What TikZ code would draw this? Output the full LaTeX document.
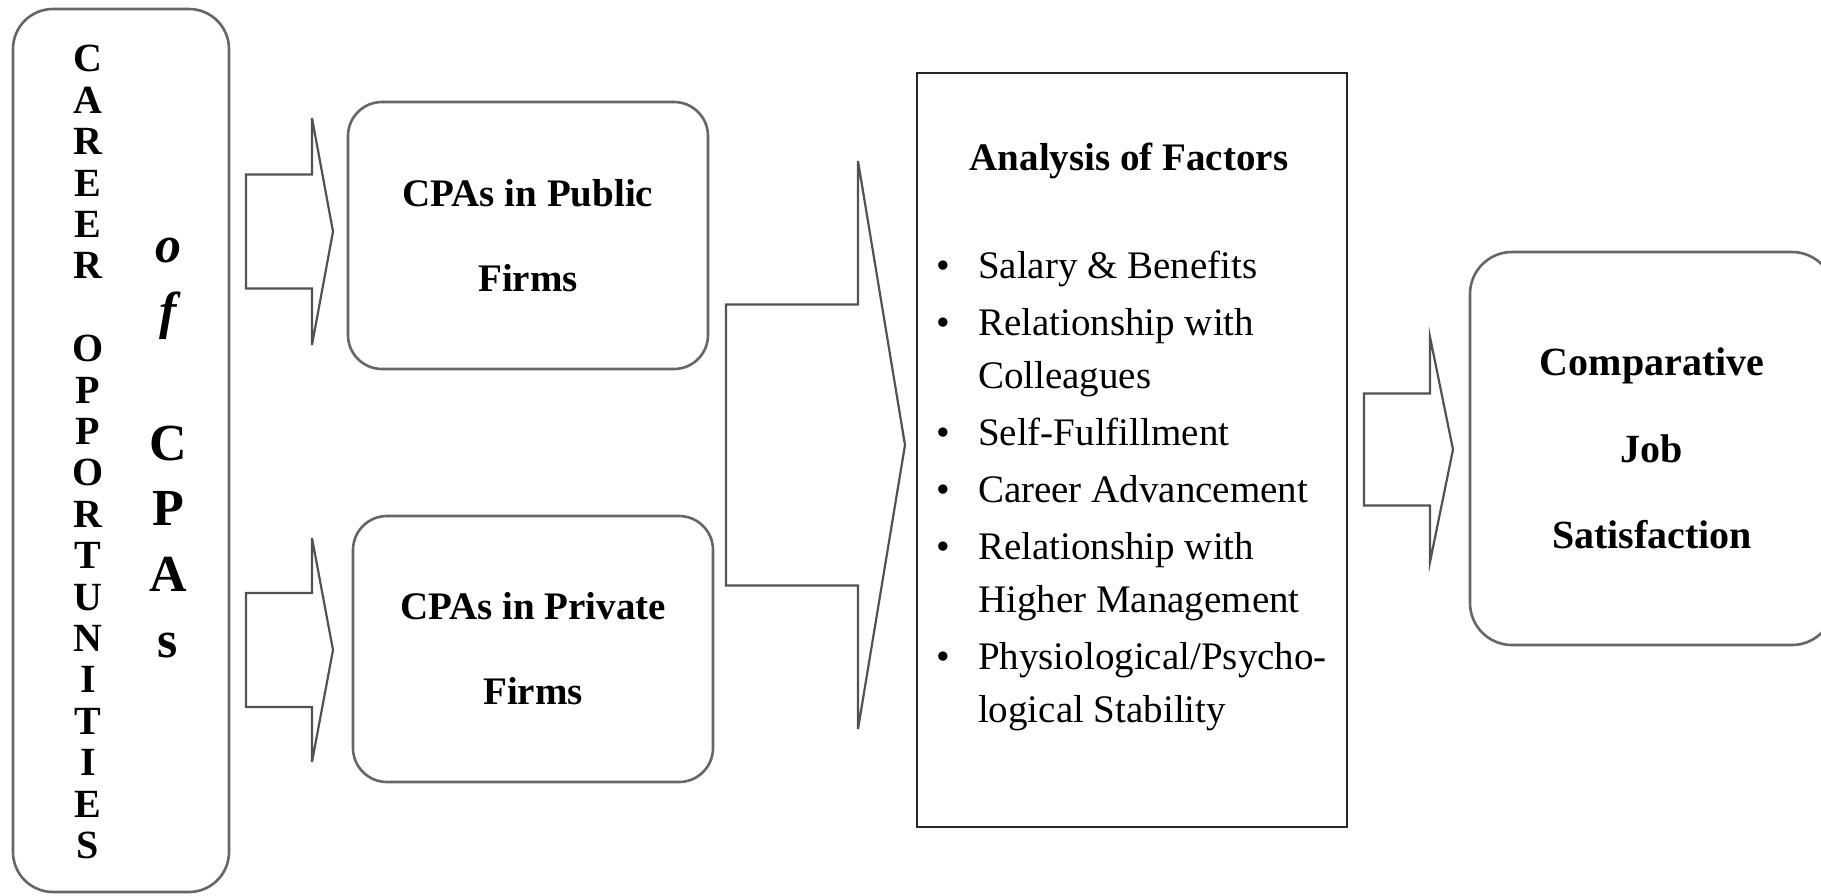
\documentclass[tikz,border=0pt]{standalone}
\usepackage{fontspec}
\setmainfont{Liberation Serif}
\definecolor{FrameClr}{rgb}{0.4,0.4,0.4}
\definecolor{ArrowClr}{rgb}{0.32,0.32,0.32}

% block arrow: shaft start, head base, tip, centre y, half shaft, half head
\newcommand{\blockarrow}[6]{%
  \draw[arrowline] (#1,#4-#5) -- (#2,#4-#5) -- (#2,#4-#6) -- (#3,#4)
    -- (#2,#4+#6) -- (#2,#4+#5) -- (#1,#4+#5) -- cycle;}

\begin{document}
\begin{tikzpicture}[x=0.5pt,y=-0.5pt,
  roundbox/.style={draw=FrameClr,line width=1.3pt,rounded corners=17pt,align=center,
    font=\bfseries\fontsize{19.5}{42.5}\selectfont},
  arrowline/.style={draw=ArrowClr,line width=1.1pt},
  vletters/.style={inner sep=0pt,align=center}]
\useasboundingbox (0,0) rectangle (1821,895);

\node[roundbox,rounded corners=20pt,minimum width=108pt,minimum height=441.5pt] (career) at (121,450.5) {};
\node[vletters,anchor=north,font=\bfseries\fontsize{20}{20.7}\selectfont] (careerword) at (88,45)
  {C\\A\\R\\E\\E\\R\\[20.7pt]O\\P\\P\\O\\R\\T\\U\\N\\I\\T\\I\\E\\S};
\node[vletters,anchor=north,font=\bfseries\fontsize{26}{32.85}\selectfont] (ofcpas) at (168,238)
  {\itshape o\\\itshape f\\[32.85pt]C\\P\\A\\s};

\node[roundbox,minimum width=180pt,minimum height=133.5pt] (public) at (528,235.5) {CPAs in Public\\Firms};
\node[roundbox,minimum width=180pt,minimum height=133pt] (private) at (533,649) {CPAs in Private\\Firms};

\node[draw=black!85,line width=1pt,minimum width=215pt,minimum height=377pt] (factors) at (1132,450) {};
\node[anchor=base,font=\bfseries\fontsize{19.5}{24}\selectfont] (factorhead) at (1129,170) {Analysis of Factors};
\node[anchor=base west,inner sep=0pt,font=\fontsize{19.5}{26.5}\selectfont] (factorlist) at (936,278)
  {\begin{tabular}[t]{@{}l@{\hspace{14pt}}l@{}}
   \textbullet & Salary \& Benefits\\[2pt]
   \textbullet & Relationship with\\
               & Colleagues\\[2pt]
   \textbullet & Self-Fulfillment\\[2pt]
   \textbullet & Career Advancement\\[2pt]
   \textbullet & Relationship with\\
               & Higher Management\\[2pt]
   \textbullet & Physiological/Psycho-\\
               & logical Stability
   \end{tabular}};

\node[roundbox,rounded corners=21pt,minimum width=182pt,minimum height=196.5pt,
  font=\bfseries\fontsize{20}{43.25}\selectfont] (compjob) at (1652,448.5) {Comparative\\Job\\Satisfaction};

\blockarrow{246}{312}{333}{231.5}{57}{113.5}
\blockarrow{246}{312}{333}{650}{57}{112}
\blockarrow{726}{858}{905}{445}{140.5}{284}
\blockarrow{1364}{1430}{1453}{449.5}{56}{112.5}

\end{tikzpicture}
\end{document}
